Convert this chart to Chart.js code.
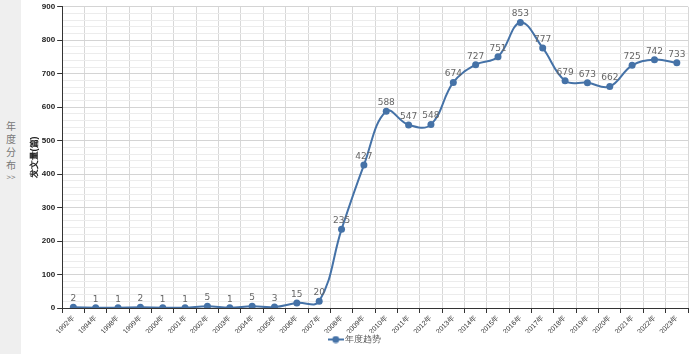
<!DOCTYPE html>
<html>
<head>
<meta charset="utf-8">
<script src="https://cdn.jsdelivr.net/npm/chart.js@4.4.0/dist/chart.umd.min.js"></script>
<style>
  body { margin: 0; background: #fff; font-family: "Noto Sans CJK SC", "DejaVu Sans", sans-serif; }
  #side { position: absolute; left: 0; top: 0; width: 21px; height: 354px; background: #efefef; }
  #side span { position: absolute; left: 0; width: 22px; font-size: 10px; line-height: 12px; color: #777; text-align: center; }
  #wrap { position: absolute; left: 21px; top: 0; width: 671px; height: 354px; }
</style>
</head>
<body>
<div id="side">
  <span style="top:120px">年</span>
  <span style="top:133px">度</span>
  <span style="top:146px">分</span>
  <span style="top:159px">布</span>
  <span style="top:171px;font-size:8px">&gt;&gt;</span>
</div>
<div id="wrap"><canvas id="trendChart"></canvas></div>
<script>
    // Données
    const years = ['1992年', '1994年', '1998年', '1999年', '2000年', '2001年', '2002年', '2003年', '2004年', '2005年',
        '2006年', '2007年', '2008年', '2009年', '2010年', '2011年', '2012年', '2013年', '2014年', '2015年',
        '2016年', '2017年', '2018年', '2019年', '2020年', '2021年', '2022年', '2023年'];
    const counts = [2, 1, 1, 2, 1, 1, 5, 1, 5, 3, 15, 20, 235, 427, 588, 547, 548, 674, 727, 751, 853, 777, 679, 673, 662, 725, 742, 733];
    const seriesName = '年度趋势';
    const lineColor = '#4572A7';

    // Icône de légende : ligne + point
    const legendIcon = document.createElement('canvas');
    legendIcon.width = 16;
    legendIcon.height = 8;
    const ic = legendIcon.getContext('2d');
    ic.strokeStyle = lineColor;
    ic.lineWidth = 2;
    ic.beginPath(); ic.moveTo(0, 4); ic.lineTo(16, 4); ic.stroke();
    ic.fillStyle = lineColor;
    ic.beginPath(); ic.arc(8, 4, 3.5, 0, Math.PI * 2); ic.fill();

    // Étiquettes de valeurs au-dessus des points
    const valueLabels = {
        id: 'valueLabels',
        afterDatasetsDraw(chart) {
            const ctx = chart.ctx;
            const meta = chart.getDatasetMeta(0);
            ctx.save();
            ctx.font = '9px "DejaVu Sans", sans-serif';
            ctx.fillStyle = '#666';
            ctx.textAlign = 'center';
            ctx.textBaseline = 'bottom';
            meta.data.forEach((pt, i) => {
                ctx.fillText(String(counts[i]), pt.x, pt.y - 4);
            });
            ctx.restore();
        }
    };

    const ctx = document.getElementById('trendChart').getContext('2d');
    new Chart(ctx, {
        type: 'line',
        data: {
            labels: years,
            datasets: [{
                label: seriesName,
                data: counts,
                borderColor: lineColor,
                backgroundColor: lineColor,
                borderWidth: 2,
                tension: 0.4,
                pointRadius: 3.5,
                pointBackgroundColor: lineColor,
                pointBorderWidth: 0
            }]
        },
        options: {
            responsive: true,
            maintainAspectRatio: false,
            animation: false,
            layout: { padding: { top: 0, right: 1, left: 0, bottom: 0 } },
            plugins: {
                legend: {
                    position: 'bottom',
                    labels: {
                        usePointStyle: true,
                        pointStyle: legendIcon,
                        color: '#555',
                        font: { size: 9 },
                        padding: 2
                    }
                },
                tooltip: { enabled: false }
            },
            scales: {
                x: {
                    offset: true,
                    afterFit: scale => { scale.height = 25; },
                    grid: { offset: true, color: '#d8d8d8', tickColor: '#333', tickLength: 5 },
                    border: { color: '#333', width: 1 },
                    ticks: {
                        autoSkip: false,
                        maxRotation: 45,
                        minRotation: 45,
                        color: '#333',
                        font: { size: 7 },
                        padding: 1
                    }
                },
                y: {
                    min: 0,
                    max: 900,
                    title: {
                        display: true,
                        text: '发文量(篇)',
                        color: '#222',
                        font: { size: 9, weight: 'bold' },
                        padding: { top: 8, bottom: 0 }
                    },
                    grid: {
                        color: c => (c.tick && c.tick.value % 100 === 0) ? '#d4d4d4' : '#ececec',
                        tickColor: c => (c.tick && c.tick.value % 100 === 0) ? '#333' : 'rgba(0,0,0,0)',
                        tickLength: 5
                    },
                    border: { color: '#333', width: 1 },
                    ticks: {
                        stepSize: 20,
                        autoSkip: false,
                        color: '#222',
                        font: { size: 8, weight: 'bold' },
                        padding: 2,
                        callback: v => (v % 100 === 0 ? v : '')
                    }
                }
            }
        },
        plugins: [valueLabels]
    });
</script>
</body>
</html>
